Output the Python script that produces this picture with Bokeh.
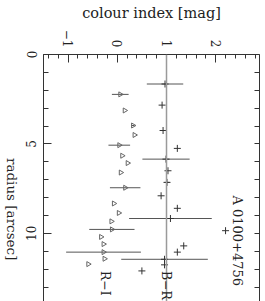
import math
from bokeh.plotting import figure
from bokeh.layouts import row
from bokeh.models import Range1d, LinearAxis, FixedTicker, Span, Label
from bokeh.embed import file_html
from bokeh.resources import INLINE

# B-R colour profile (crosses)
br_radius = [1.65, 2.83, 4.25, 5.25, 5.85, 6.5, 7.15, 7.9, 8.6, 9.17, 9.85, 10.7, 11.05, 11.45, 11.76, 12.1]
br_colour = [0.97, 0.91, 0.93, 1.22, 0.99, 1.03, 1.01, 0.89, 1.22, 1.08, 2.2, 1.35, 1.22, 0.96, 0.96, 0.5]
br_err = [0.37, 0, 0, 0, 0.48, 0, 0.05, 0, 0, 0.84, 0, 0, 0, 0.88, 0, 0]

# R-I colour profile (triangles)
ri_radius = [2.23, 3.13, 3.97, 4.5, 5.07, 5.66, 6.07, 6.6, 7.45, 8.33, 8.86, 9.33, 9.78, 10.2, 10.6, 11.05, 11.42, 11.72]
ri_colour = [0.06, 0.15, 0.32, 0.35, 0.04, 0.1, 0.21, 0.07, 0.16, -0.07, 0.03, -0.12, -0.11, -0.33, -0.28, -0.28, -0.26, -0.59]
ri_err = [0.17, 0, 0.03, 0, 0.22, 0, 0, 0, 0.31, 0, 0, 0, 0.46, 0, 0, 0.76, 0, 0]

colour_ticks = [-1, 0, 1, 2]
radius_ticks = [0, 5, 10]
mean_br = 1.0

FONT = "DejaVu Serif"
AX = "#333333"
TXT = "#222222"

# narrow strip holding the radius axis title (reads downwards)
lf = figure(width=22, height=301, x_range=Range1d(0, 1), y_range=Range1d(301, 0),
            output_backend="svg", toolbar_location=None,
            x_axis_location=None, y_axis_location=None,
            min_border=0, outline_line_color=None)
lf.grid.visible = False
lf.add_layout(Label(x=0.52, y=188.5, text="radius [arcsec]", angle=-math.pi / 2,
                    text_align="center", text_baseline="middle",
                    text_font=FONT, text_font_size="13.5px", text_color=TXT))

p = figure(width=243, height=301, x_range=Range1d(-1.5, 2.89), y_range=Range1d(13.81, 0),
           output_backend="svg", toolbar_location=None,
           x_axis_location="above", y_axis_location="left",
           min_border_left=21, min_border_top=54, min_border_right=6, min_border_bottom=0,
           outline_line_color=None)
p.grid.visible = False
p.background_fill_color = "white"

xa = p.xaxis[0]
ya = p.yaxis[0]
ra = LinearAxis(ticker=FixedTicker(ticks=[], minor_ticks=list(range(0, 14))))
p.add_layout(ra, "right")

for ax in [xa, ya, ra]:
    ax.axis_line_color = AX
    ax.axis_line_width = 1
    ax.major_tick_line_color = AX
    ax.minor_tick_line_color = AX
    ax.major_tick_in = 8
    ax.major_tick_out = 0
    ax.minor_tick_in = 4
    ax.minor_tick_out = 0
    ax.major_label_text_font = FONT
    ax.major_label_text_font_size = "12px"
    ax.major_label_text_color = TXT
    ax.axis_label_text_font = FONT
    ax.axis_label_text_font_style = "normal"
    ax.axis_label_text_font_size = "14.5px"
    ax.axis_label_text_color = TXT
ra.minor_tick_in = 5
ya.minor_tick_in = 5

# top (colour) axis
xa.ticker = FixedTicker(ticks=colour_ticks,
                        minor_ticks=[round(-1.4 + 0.2 * i, 2) for i in range(22)])
xa.major_label_overrides = {-1: "\u22121"}
xa.major_label_orientation = -math.pi / 2
xa.axis_label = "colour index [mag]"
xa.axis_label_standoff = 6
xa.major_label_standoff = 7

# left (radius) axis
ya.ticker = FixedTicker(ticks=radius_ticks, minor_ticks=list(range(0, 14)))
ya.major_label_orientation = "vertical"
ya.major_label_standoff = 7

p.add_layout(Span(location=mean_br, dimension="height", line_color="#9a9a9a", line_width=1.5))

# error bars
bx0 = [c - e for c, e in zip(br_colour, br_err) if e > 0]
bx1 = [c + e for c, e in zip(br_colour, br_err) if e > 0]
by = [r for r, e in zip(br_radius, br_err) if e > 0]
p.segment(x0=bx0, x1=bx1, y0=by, y1=by, line_color="#555555", line_width=1)
rx0 = [c - e for c, e in zip(ri_colour, ri_err) if e > 0]
rx1 = [c + e for c, e in zip(ri_colour, ri_err) if e > 0]
ry = [r for r, e in zip(ri_radius, ri_err) if e > 0]
p.segment(x0=rx0, x1=rx1, y0=ry, y1=ry, line_color="#555555", line_width=1)

p.scatter(x=br_colour, y=br_radius, marker="cross", size=7, line_color="#333333", line_width=1)
p.scatter(x=ri_colour, y=ri_radius, marker="triangle", size=5, angle=-math.pi / 2,
          line_color="#666666", fill_color=None, line_width=1)

# labels in the plot
p.add_layout(Label(x=2.45, y=7.88, text="A 0100+4756", angle=-math.pi / 2,
                   text_align="left", text_baseline="middle",
                   text_font=FONT, text_font_size="13px", text_color=TXT))
p.add_layout(Label(x=-0.245, y=12.1, text="R\u2212I", angle=-math.pi / 2,
                   text_align="left", text_baseline="middle",
                   text_font=FONT, text_font_size="12.5px", text_color=TXT))
p.add_layout(Label(x=1.0, y=12.1, text="B\u2212R", angle=-math.pi / 2,
                   text_align="left", text_baseline="middle",
                   text_font=FONT, text_font_size="12.5px", text_color=TXT))

layout = row(lf, p)
open("out.html", "w").write(file_html(layout, INLINE))
